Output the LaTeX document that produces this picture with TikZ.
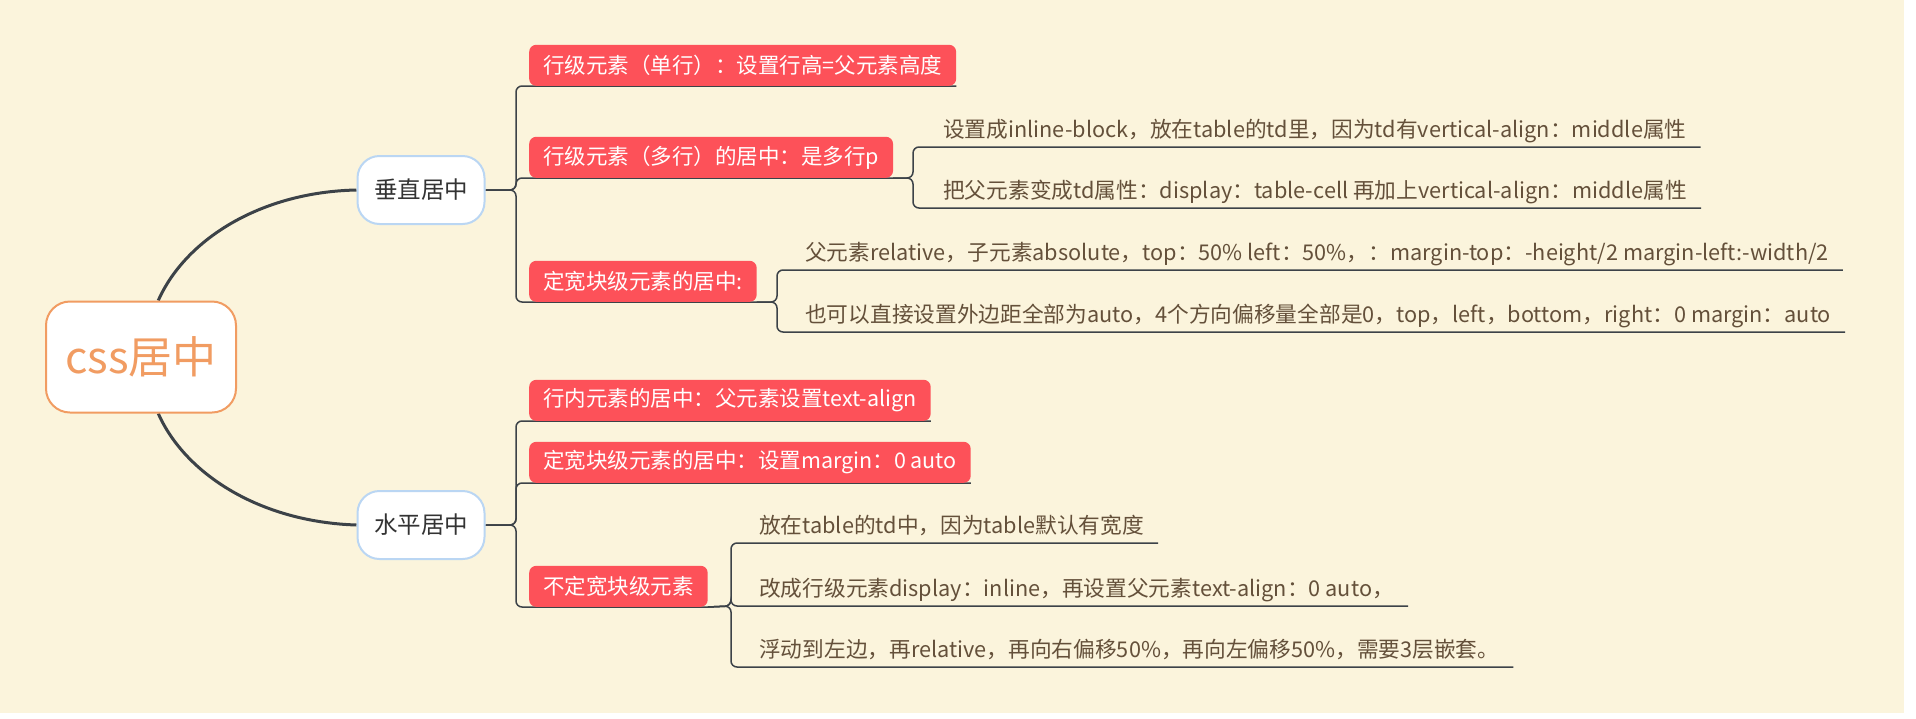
\documentclass[tikz,border=0pt]{standalone}
\usepackage{fontspec}
\newfontfamily\cjk{Noto Sans CJK SC}
\usetikzlibrary{backgrounds}
\definecolor{paper}{RGB}{251,244,220}
\definecolor{boxred}{RGB}{253,81,89}
\definecolor{rootorange}{RGB}{241,156,98}
\definecolor{topicblue}{RGB}{186,214,243}
\definecolor{branchgray}{RGB}{60,66,72}
\definecolor{leafbrown}{RGB}{100,80,58}
\begin{document}
\begin{tikzpicture}[x=1pt,y=-1pt]
\def\boxx{529}; %left edge of the red boxes
\def\spineA{516}; %spine of the first level
\def\stub{14}; %gap between a spine and its children

\tikzstyle{root} = [rectangle, rounded corners=24pt, draw=rootorange, line width=2pt, fill=white, minimum width=190pt, minimum height=111pt, text=rootorange, font=\cjk\fontsize{44}{50}\selectfont]
\tikzstyle{topic} = [rectangle, rounded corners=22pt, draw=topicblue, line width=2pt, fill=white, minimum width=127pt, minimum height=68pt, text=black!80, font=\cjk\fontsize{23.5}{28}\selectfont]
\tikzstyle{redbox} = [rectangle, rounded corners=7pt, fill=boxred, text=white, inner xsep=14pt, inner ysep=0pt, minimum height=41pt, anchor=south west, font=\cjk\fontsize{21.5}{25}\selectfont]
\tikzstyle{leaf} = [rectangle, inner xsep=14pt, inner ysep=0pt, text height=17pt, text depth=9pt, anchor=south west, text=leafbrown, font=\cjk\fontsize{21.7}{25}\selectfont]
\tikzstyle{trunk} = [draw=branchgray, line width=3pt]
\tikzstyle{branch} = [draw=branchgray, line width=1.5pt, rounded corners=6pt]

\useasboundingbox (0,0) rectangle (1916,718);

\node[root] (root) at (141,357) {css居中};
\node[topic] (vtop) at (421,190) {垂直居中};
\node[topic] (htop) at (421,525) {水平居中};

\node[redbox] (vb1) at (\boxx,86) {行级元素（单行）：设置行高=父元素高度};
\node[redbox] (vb2) at (\boxx,178) {行级元素（多行）的居中：是多行p};
\node[redbox] (vb3) at (\boxx,302) {定宽块级元素的居中:};
\node[redbox] (hb1) at (\boxx,421) {行内元素的居中：父元素设置text-align};
\node[redbox] (hb2) at (\boxx,483) {定宽块级元素的居中：设置margin：0 auto};
\node[redbox] (hb3) at (\boxx,607) {不定宽块级元素};

\node[leaf] (vl21) at (929,147) {设置成inline-block，放在table的td里，因为td有vertical-align：middle属性};
\node[leaf] (vl22) at (929,208) {把父元素变成td属性：display：table-cell 再加上vertical-align：middle属性};
\node[leaf] (vl31) at (791,270) {父元素relative，子元素absolute，top：50\% left：50\%，：margin-top：-height/2 margin-left:-width/2};
\node[leaf] (vl32) at (791,332) {也可以直接设置外边距全部为auto，4个方向偏移量全部是0，top，left，bottom，right：0 margin：auto};
\node[leaf] (hl31) at (745,543) {放在table的td中，因为table默认有宽度};
\node[leaf] (hl32) at (745,606) {改成行级元素display：inline，再设置父元素text-align：0 auto，};
\node[leaf] (hl33) at (745,667) {浮动到左边，再relative，再向右偏移50\%，再向左偏移50\%，需要3层嵌套。};

\begin{scope}[on background layer]
\fill[paper] (0,0) rectangle (1904,713);
\draw[trunk] (root.73) .. controls (185,240) and (260,192) .. (vtop.west);
\draw[trunk] (root.-73) .. controls (185,474) and (260,522) .. (htop.west);

\foreach \c in {vb1,vb2,vb3}{
\draw[branch] (vtop.east) -- (\spineA,190) |- (\c.south west) -- (\c.south east);
}
\foreach \c in {hb1,hb2,hb3}{
\draw[branch] (htop.east) -- (\spineA,525) |- (\c.south west) -- (\c.south east);
}

\foreach \c in {vl21,vl22}{
\draw[branch] (vb2.south east) -- (913,178) |- (\c.south west) -- (\c.south east);
}
\foreach \c in {vl31,vl32}{
\draw[branch] (vb3.south east) -- (777,302) |- (\c.south west) -- (\c.south east);
}
\foreach \c in {hl31,hl32,hl33}{
\draw[branch] (hb3.south east) -- (731,606) |- (\c.south west) -- (\c.south east);
}
\end{scope}
\end{tikzpicture}
\end{document}
